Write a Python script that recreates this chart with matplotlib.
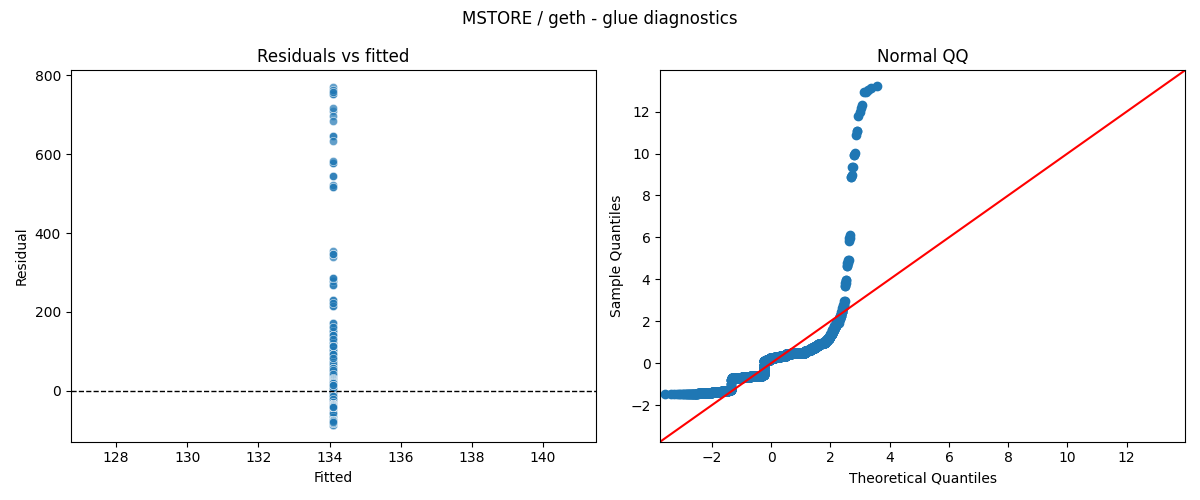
import numpy as np
import matplotlib
matplotlib.use("Agg")
import matplotlib.pyplot as plt
import seaborn as sns
from statistics import NormalDist

# intercept-only glue model: every observation gets the same fitted value
fitted_level = 134.1

# residual levels (gas units), with how often each occurs
resid_levels = [
    -84, -82, -80, -78, -75, -72,
    -63, -54, -45,
    -38, -36, -34, -32, -30,
    -25, -18, -10, -3,
    9, 13, 17, 21, 24, 27, 30, 32,
    36, 40, 44, 50, 55, 60, 65, 70, 76,
    85, 95, 105, 115, 125, 135, 145, 155, 165, 175,
    218, 226, 233, 272, 280, 288, 343, 350, 358,
    520, 526, 548, 580, 585, 636, 648,
    688, 700, 712, 719, 755, 760, 766, 773,
]
resid_counts = [
    12, 24, 90, 133, 150, 84,
    3, 3, 4,
    400, 450, 450, 300, 123,
    10, 10, 10, 10,
    150, 290, 350, 400, 400, 340, 350, 320,
    120, 110, 106, 70, 65, 56, 25, 22, 17,
    18, 16, 15, 15, 7, 6, 5, 4, 3, 2,
    2, 2, 2, 2, 2, 2, 1, 2, 1,
    2, 1, 2, 2, 1, 1, 2,
    1, 1, 1, 1, 2, 1, 1, 1,
]

resid = np.repeat(np.array(resid_levels, dtype=float), resid_counts)
resid = resid - resid.mean()
n = resid.size
# observations were not recorded in sorted order: interleave deterministically
resid = resid[(np.arange(n) * 2711) % n]
fitted = np.full(resid.shape, fitted_level)

# normal QQ (standardised, plotting positions i/(n+1))
sample_q = np.sort((resid - resid.mean()) / resid.std())
nd = NormalDist()
theo_q = np.array([nd.inv_cdf(i / (n + 1)) for i in range(1, n + 1)])

fig, (ax1, ax2) = plt.subplots(1, 2, figsize=(12, 5), dpi=100)

sns.scatterplot(x=fitted, y=resid, ax=ax1, alpha=0.7)
ax1.axhline(0, color="k", linestyle="--", linewidth=1)
ax1.set_title("Residuals vs fitted")
ax1.set_xlabel("Fitted")
ax1.set_ylabel("Residual")

ax2.plot(theo_q, sample_q, marker="o", linestyle="none",
         markerfacecolor="C0", markeredgecolor="C0")
lo = theo_q.min() - 0.025 * (theo_q.max() - theo_q.min())
hi = sample_q.max() + 0.05 * (sample_q.max() - sample_q.min())
ax2.plot([lo, hi], [lo, hi], "r-")
ax2.set_xlim(lo, hi)
ax2.set_ylim(lo, hi)
ax2.set_title("Normal QQ")
ax2.set_xlabel("Theoretical Quantiles")
ax2.set_ylabel("Sample Quantiles")

fig.suptitle("MSTORE / geth - glue diagnostics")
fig.tight_layout()
fig.savefig("out.png")
